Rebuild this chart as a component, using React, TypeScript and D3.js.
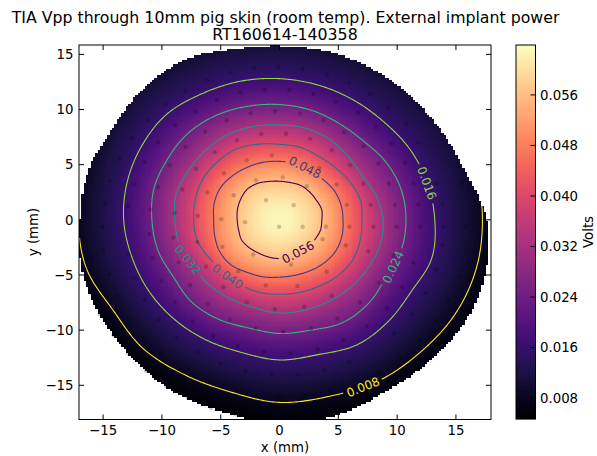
import React, { useEffect, useRef } from "react";
import * as d3 from "d3";

const titleLines = ["TIA Vpp through 10mm pig skin (room temp). External implant power", "RT160614-140358"];
const xTicks = [-15, -10, -5, 0, 5, 10, 15];
const yTicks = [-15, -10, -5, 0, 5, 10, 15];
const barTicks = [0.008, 0.016, 0.024, 0.032, 0.04, 0.048, 0.056];
const xDomain = [-17.05, 17.98];
const yDomain = [-18.1, 15.85];
const barDomain = [0.0047, 0.0639];
const peakVolts = 0.0638;

// radius (mm) of each level at bearings 0,15,...,345 degrees from the origin
const edgeRadii = [17.6, 16.4, 15.95, 15.8, 15.8, 15.8, 15.8, 16, 16.6, 16.6, 16.45, 16.85, 16.95, 17.4, 17.55, 17.7, 18, 18.1, 18.6, 18.4, 18, 18.1, 18.3, 18.15];
const r0047 = [19.2, 19.4, 19.7, 19.6, 19.5, 19.4, 19.4, 19.7, 20, 20, 19.8, 19.3, 19.2, 18.9, 18.2, 18.2, 18, 18, 18.3, 18.4, 18.7, 18.8, 19.1, 19.2];
const r008 = [17.25, 17.3, 17.6, 17.5, 17.4, 17.3, 17.3, 17.6, 18, 18, 17.8, 17.2, 17.1, 17.0, 16.35, 16.45, 16.2, 16.15, 16.55, 16.55, 16.85, 16.95, 17.2, 17.3];
const r016 = [13.2, 13, 12.8, 12.55, 12.55, 12.65, 12.8, 13, 13.2, 13.55, 13.5, 13.4, 13.25, 13, 12.85, 12.7, 12.55, 12.45, 12.7, 12.65, 13.1, 13.05, 12.95, 13.4];
const r024 = [10.75, 10.7, 10.45, 10.1, 10.1, 10.3, 10.45, 10.65, 10.9, 11.05, 11, 11.05, 10.85, 10.7, 10.4, 10.55, 10.4, 10.15, 10.3, 10.35, 10.75, 10.7, 10.45, 10.7];
const r032 = [8.8, 8.5, 8.1, 8.2, 8.45, 8.6, 8.6, 8.75, 8.9, 8.9, 8.95, 9.1, 8.9, 8.8, 8.5, 8.4, 8.3, 8.25, 8.45, 8.45, 8.5, 8.6, 8.7, 8.85];
const r040 = [7, 7.1, 6.9, 6.7, 6.65, 6.8, 6.85, 7.1, 7.4, 7.45, 7.5, 7.4, 7.3, 7.25, 6.9, 6.75, 6.75, 6.8, 6.75, 6.8, 6.9, 7.1, 7.2, 7.1];
const r048 = [5.4, 5.4, 5.35, 5.2, 5.2, 5.3, 5.3, 5.4, 5.5, 5.65, 5.8, 5.75, 5.6, 5.7, 5.85, 5.8, 5.5, 5.35, 5.2, 5.2, 5.3, 5.45, 5.55, 5.5];
const r056 = [3.6, 3.7, 3.6, 3.6, 3.6, 3.5, 3.5, 3.6, 3.8, 3.9, 3.8, 3.7, 3.6, 3.6, 3.7, 3.6, 3.5, 3.5, 3.5, 3.4, 3.4, 3.5, 3.5, 3.6];
const r0615 = [1.9, 1.9, 1.9, 1.85, 1.85, 1.8, 1.8, 1.85, 1.95, 2, 2, 1.95, 1.9, 1.9, 1.95, 1.9, 1.85, 1.85, 1.8, 1.8, 1.8, 1.85, 1.85, 1.9];

const contourLevels = [0.008, 0.016, 0.024, 0.032, 0.04, 0.048, 0.056];
const contourRadii = [r008, r016, r024, r032, r040, r048, r056];
const labelX = [7.1, 12.54, 9.65, -7.78, -4.41, 2.17, 1.57];
const labelY = [-15.15, 3.33, -4.28, -3.6, -5.13, 4.77, -2.93];
const labelAngle = [-22, 70, -65, 50, 35, 27, -28];

const probeX = [-2.14, -0.1, -4.15, -6.14, -8, -3.33, -1.23, 0.84, -5.34, -9.7, -7.18, -2.45, -0.38, -11.2, -8.86, -4.49, -12.54, -10.3, -6.33, -1.57, 0.55, -3.64, -7.98, -5.51, -13.62, -11.47, -9.34, -2.79, -0.67, -7.1, -4.72, -14.39, -12.34, -10.33, -8.26, -2, 0.27, -6.14, -3.9, -14.84, -12.88, -10.96, -8.91, -1.15, 1.2, -6.96, -4.95, -2.93, -15.06, -0.04,
  1.97, 4.04, 5.91, 2.88, 7.7, 4.8, 1.74, 6.65, 9.28, 3.73, 8.2, 2.6, 5.51, 10.76, 9.54, 4.44, 7.13, 11.8, 10.67, 8.4, 6, 3.39, 2.31, 4.86, 9.31, 7.13, 11.38, 13.36, 15.49, 13.85, 11.8, 9.82, 7.75, 5.71, 1.97, 3.95, 5.94, 7.98, 9.96, 11.95, 13.93, 15.8,
  -14.98, -11.07, -9.03, -6.99, -4.86, -12.85, -2.23, 0.98, -10.79, -8.57, -6.25, -3.5, -14.47, -12.32, -10.05, -7.61, -1.18, 1.52, -4.78, -13.79, -11.44, -8.91, -6.11, -2.79, -0.38, -12.85, -10.25, -7.41, -4.21, -11.58, -8.74, -5.63, -2.03, 0.33, -10.08, -6.96, -3.56, -1.32, 0.95, -5, -2.88, -0.67, -8.32, 0.04, -16.68, -16.11, -15.26, -14.13, -12.85, -11.35, -9.65, -7.81, -5.82, -3.73, -1.5,
  3.67, 5.63, 7.55, 9.68, 11.38, 13.85, 15.78, 4.01, 13.31, 15.26, 8.43, 10.44, 12.43, 4.44, 14.38, 6.84, 2.11, 9.11, 11.24, 13.31, 4.92, 7.41, 9.74, 11.89, 2.68, 5.43, 10.3, 3.25, 5.94, 8.46, 3.81, 1.57, 4.35, 2.17];
const probeY = [13.77, 13.86, 13.35, 12.65, 11.68, 11.5, 11.8, 11.78, 10.84, 10.48, 9.84, 9.66, 9.84, 9.03, 8.57, 9.03, 7.37, 7, 8, 7.76, 7.8, 7.22, 6.61, 6.13, 5.56, 5.22, 4.95, 5.4, 5.83, 4.62, 4.23, 3.53, 3.26, 2.99, 2.75, 3.59, 3.85, 2.48, 2.23, 1.48, 1.21, 0.94, 0.63, 1.78, 1.35, 0.36, 0.06, -0.21, -0.63, -0.63,
  13.68, 13.16, 12.44, 11.44, 11.38, 10.72, 9.63, 9.69, 10.15, 9.03, 8.42, 7.34, 7.94, 8.67, 6.91, 6.31, 6.67, 7, 5.19, 5.1, 4.95, 4.71, 3.05, 3.2, 3.29, 3.29, 3.29, 3.29, 3.35, 1.39, 1.39, 1.36, 1.36, 1.36, -0.63, -0.63, -0.63, -0.63, -0.63, -0.63, -0.63, -0.63,
  -2.75, -1.3, -1.63, -2, -2.45, -3.11, -3.14, -4.05, -3.44, -3.86, -4.23, -4.65, -4.92, -5.25, -5.56, -5.92, -5.92, -6, -6.1, -6.88, -7.25, -7.49, -7.64, -7.46, -8.09, -8.82, -9.06, -9.18, -9.03, -10.63, -10.66, -10.51, -9.84, -10.15, -12.11, -11.99, -11.47, -11.99, -12.11, -13, -13.68, -14.07, -13.62, -16.12, -4.56, -6.61, -8.57, -10.45, -12.11, -13.68, -15.04, -16.12, -17.03, -17.63, -17.9,
  -1.75, -2.3, -2.84, -3.26, -3.9, -2.3, -2.81, -4.71, -4.5, -5.1, -5.68, -6.1, -6.64, -6.88, -7.19, -7.49, -7.88, -8.03, -8.57, -9.09, -8.94, -9.63, -10.3, -10.9, -9.84, -10.9, -12.47, -11.7, -12.86, -13.77, -13.62, -14.04, -15.5, -15.9];

const FONT = "'DejaVu Sans'";
const plot = { left: 79, right: 491, top: 45, bottom: 419.5 };
const bar = { left: 516, right: 535.5, top: 45, bottom: 419 };
const x = d3.scaleLinear().domain(xDomain).range([plot.left, plot.right]);
const y = d3.scaleLinear().domain(yDomain).range([plot.bottom, plot.top]);
const barY = d3.scaleLinear().domain(barDomain).range([bar.bottom, bar.top]);
const colour = (v: number) => d3.interpolateMagma(Math.max(0, Math.min(1, (v - barDomain[0]) / (barDomain[1] - barDomain[0]))));
const lineColour = d3.scaleSequential((t: number) => d3.interpolateViridis(1 - t)).domain([0.008, 0.056]);
const fmt = d3.format(".3f");

// closed Catmull-Rom sampling of a bearing table, one sample per degree
function perDegree(table: number[]): number[] {
  const n = table.length;
  return d3.range(360).map((deg) => {
    const u = deg / (360 / n);
    const i = Math.floor(u);
    const t = u - i;
    const p0 = table[(i - 1 + n) % n], p1 = table[i % n], p2 = table[(i + 1) % n], p3 = table[(i + 2) % n];
    return 0.5 * (2 * p1 + (p2 - p0) * t + (2 * p0 - 5 * p1 + 4 * p2 - p3) * t * t + (3 * p1 - p0 - 3 * p2 + p3) * t * t * t);
  });
}

const edge = perDegree(edgeRadii);
const stackVolts = [peakVolts, 0.0615, 0.056, 0.048, 0.04, 0.032, 0.024, 0.016, 0.008, barDomain[0]];
const stackTables = [r0615, r056, r048, r040, r032, r024, r016, r008, r0047].map(perDegree);
const radial = d3.range(360).map((deg) =>
  d3.scaleLinear().domain([0, ...stackTables.map((t) => t[deg])]).range(stackVolts).clamp(true)
);

function bearing(xv: number, yv: number) {
  const a = (Math.atan2(yv, xv) * 180) / Math.PI;
  return (Math.round(a) + 360) % 360;
}

// the field is eased across bearing and radius so the colour has no rings
const radialSpread = [-1.2, -0.8, -0.4, 0, 0.4, 0.8, 1.2];
const bearingSpread = [-8, -4, 0, 4, 8];
function fieldAt(xv: number, yv: number) {
  const deg = bearing(xv, yv);
  const r = Math.hypot(xv, yv);
  let sum = 0;
  bearingSpread.forEach((db) => {
    const s = radial[(deg + db + 360) % 360];
    radialSpread.forEach((dr) => { sum += s(Math.abs(r + dr)); });
  });
  return sum / (radialSpread.length * bearingSpread.length);
}

const cellStep = 0.2;
const cells: { x0: number; y0: number; v: number }[] = [];
d3.range(xDomain[0], xDomain[1], cellStep).forEach((x0) => {
  d3.range(yDomain[0], yDomain[1], cellStep).forEach((y0) => {
    const cx = x0 + cellStep / 2, cy = y0 + cellStep / 2;
    if (Math.hypot(cx, cy) <= edge[bearing(cx, cy)]) cells.push({ x0, y0, v: fieldAt(cx, cy) });
  });
});

function contourSegments(table: number[], index: number) {
  const rr = perDegree(table);
  const lx = x(labelX[index]), ly = y(labelY[index]);
  const segs: [number, number][][] = [];
  let cur: [number, number][] = [];
  const N = 720;
  d3.range(N + 1).forEach((k) => {
    const deg = k / 2;
    const d0 = Math.floor(deg) % 360, d1 = (d0 + 1) % 360;
    const f = deg - Math.floor(deg);
    const r = rr[d0] * (1 - f) + rr[d1] * f;
    const e = edge[d0] * (1 - f) + edge[d1] * f;
    const xv = r * Math.cos((deg * Math.PI) / 180), yv = r * Math.sin((deg * Math.PI) / 180);
    const hidden = Math.hypot(x(xv) - lx, y(yv) - ly) < 20 || r > e;
    if (hidden) {
      if (cur.length > 1) segs.push(cur);
      cur = [];
    } else cur.push([xv, yv]);
  });
  if (cur.length > 1) segs.push(cur);
  return segs;
}

const line = d3.line<[number, number]>().x((d) => x(d[0])).y((d) => y(d[1]));

export default function App() {
  const heat = useRef<SVGGElement>(null);
  const ramp = useRef<SVGGElement>(null);
  useEffect(() => {
    const w = Math.abs(x(cellStep) - x(0)), h = Math.abs(y(0) - y(cellStep));
    d3.select(heat.current).selectAll("rect").data(cells).join("rect")
      .attr("x", (d) => x(d.x0)).attr("y", (d) => y(d.y0) - h)
      .attr("width", w).attr("height", h)
      .attr("fill", (d) => colour(d.v)).attr("shape-rendering", "crispEdges");
    const rows = d3.range(bar.top, bar.bottom, 1);
    d3.select(ramp.current).selectAll("rect").data(rows).join("rect")
      .attr("x", bar.left).attr("y", (d) => d)
      .attr("width", bar.right - bar.left).attr("height", 1.2)
      .attr("fill", (d) => colour(barY.invert(d + 0.5)));
  }, []);

  const tl = 5;
  return (
    <svg width={597} height={456} style={{ position: "absolute", left: 0, top: 0, display: "block", background: "#fff" }} fontFamily={FONT} fill="#000">
      <defs>
        <clipPath id="plotClip"><rect x={plot.left} y={plot.top} width={plot.right - plot.left} height={plot.bottom - plot.top} /></clipPath>
      </defs>
      <g ref={heat} clipPath="url(#plotClip)" />
      <g clipPath="url(#plotClip)">
        {contourRadii.map((table, i) =>
          contourSegments(table, i).map((seg, j) => (
            <path key={`${i}-${j}`} d={line(seg) ?? ""} fill="none" stroke={lineColour(contourLevels[i])} strokeWidth={1.1} />
          ))
        )}
        {probeX.map((px, i) => (
          <circle key={i} cx={x(px)} cy={y(probeY[i])} r={2.2} fill="#000" fillOpacity={0.2} />
        ))}
      </g>
      {contourLevels.map((lv, i) => (
        <text key={lv} fontSize={12} textAnchor="middle" dy="0.36em" fill={lineColour(lv)}
          transform={`translate(${x(labelX[i])},${y(labelY[i])}) rotate(${labelAngle[i]})`}>{fmt(lv)}</text>
      ))}
      {/* frame */}
      <g stroke="#000" strokeWidth={1} fill="none">
        <rect x={plot.left} y={plot.top} width={plot.right - plot.left} height={plot.bottom - plot.top} />
        {xTicks.map((t) => (
          <g key={t}>
            <line x1={x(t)} x2={x(t)} y1={plot.bottom} y2={plot.bottom - tl} />
            <line x1={x(t)} x2={x(t)} y1={plot.top} y2={plot.top + tl} />
          </g>
        ))}
        {yTicks.map((t) => (
          <g key={t}>
            <line x1={plot.left} x2={plot.left + tl} y1={y(t)} y2={y(t)} />
            <line x1={plot.right} x2={plot.right - tl} y1={y(t)} y2={y(t)} />
          </g>
        ))}
      </g>
      {xTicks.map((t) => (
        <text key={t} x={x(t)} y={434.5} fontSize={13.3} textAnchor="middle">{t < 0 ? `\u2212${-t}` : t}</text>
      ))}
      {yTicks.map((t) => (
        <text key={t} x={73.5} y={y(t)} dy="0.36em" fontSize={13.3} textAnchor="end">{t < 0 ? `\u2212${-t}` : t}</text>
      ))}
      <text x={285} y={452} fontSize={13.3} textAnchor="middle">x (mm)</text>
      <text transform="translate(38,232) rotate(-90)" fontSize={13.3} textAnchor="middle">y (mm)</text>
      <text x={285.5} y={22.5} fontSize={15.75} textAnchor="middle">{titleLines[0]}</text>
      <text x={285} y={40} fontSize={15.75} textAnchor="middle">{titleLines[1]}</text>
      {/* colour bar */}
      <g ref={ramp} />
      <rect x={bar.left} y={bar.top} width={bar.right - bar.left} height={bar.bottom - bar.top} fill="none" stroke="#000" strokeWidth={1} />
      {barTicks.map((t) => (
        <g key={t}>
          <line x1={bar.right} x2={bar.right - tl} y1={barY(t)} y2={barY(t)} stroke="#000" />
          <text x={540} y={barY(t)} dy="0.36em" fontSize={13.3}>{fmt(t)}</text>
        </g>
      ))}
      <text transform="translate(593,232) rotate(-90)" fontSize={13.3} textAnchor="middle">Volts</text>
    </svg>
  );
}
